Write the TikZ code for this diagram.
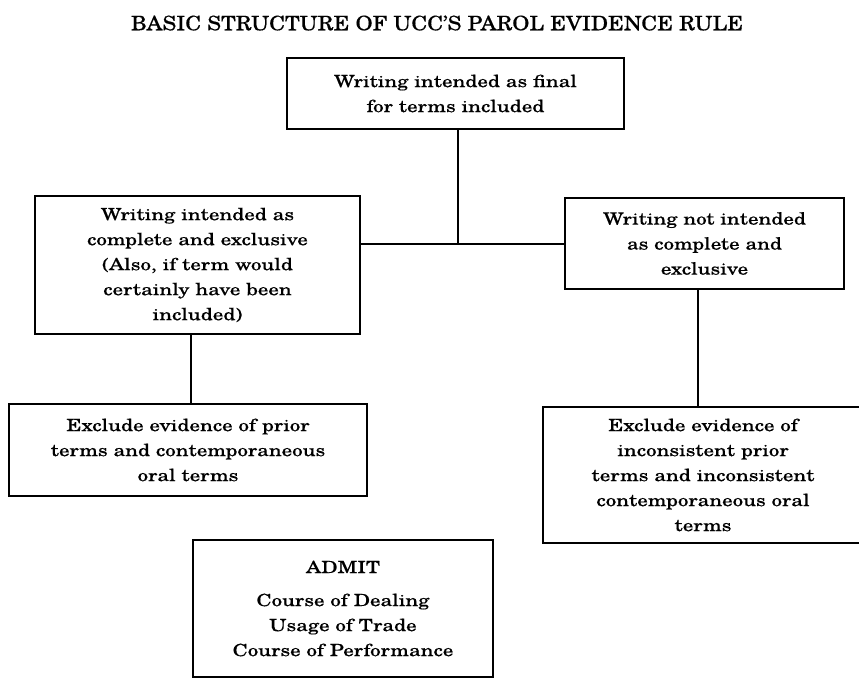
\documentclass[tikz,border=0pt]{standalone}
\usepackage{fontspec}
\setmainfont{TeX Gyre Schola}[FakeStretch=1.25, FakeBold=0.4]
\newfontfamily\titlefont{TeX Gyre Schola}[FakeStretch=1.1, FakeBold=0.4]
\begin{document}
\begin{tikzpicture}[x=1pt,y=-1pt,
  box/.style={draw=black, line width=2.2pt, align=center, inner sep=0pt,
    font=\fontsize{16.8}{25}\selectfont, text=black},
  conn/.style={draw=black, line width=2pt}]
\useasboundingbox (0,0) rectangle (859,679);
\node[font=\titlefont\fontsize{20}{22}\selectfont] (title) at (437,23) {BASIC STRUCTURE OF UCC’S PAROL EVIDENCE RULE};
\node[box, minimum width=337pt, minimum height=71pt] (top) at (455.5,93.5)
  {Writing intended as final\\for terms included};
\node[box, minimum width=325pt, minimum height=138pt] (left) at (197.5,265)
  {Writing intended as\\complete and exclusive\\(Also, if term would\\certainly have been\\included)};
\node[box, minimum width=279pt, minimum height=91pt] (right) at (704.5,243.5)
  {Writing not intended\\as complete and\\exclusive};
\node[box, minimum width=358pt, minimum height=92pt] (bl) at (188,450)
  {Exclude evidence of prior\\terms and contemporaneous\\oral terms};
\node[box, minimum width=320pt, minimum height=136pt] (br) at (703,475)
  {Exclude evidence of\\inconsistent prior\\terms and inconsistent\\contemporaneous oral\\terms};
\node[box, minimum width=300pt, minimum height=137pt] (admit) at (343,608.5)
  {ADMIT\\[8pt]Course of Dealing\\Usage of Trade\\Course of Performance};
\draw[conn] (right.west) -- (right.west -| left.east);
\draw[conn] ([xshift=2.5pt]top.south) -- ([xshift=2.5pt]top.south |- right.west);
\draw[conn] ([xshift=3pt]bl.north) -- ([xshift=3pt]bl.north |- left.south);
\draw[conn] ([xshift=-5pt]br.north) -- ([xshift=-5pt]br.north |- right.south);
\end{tikzpicture}
\end{document}
